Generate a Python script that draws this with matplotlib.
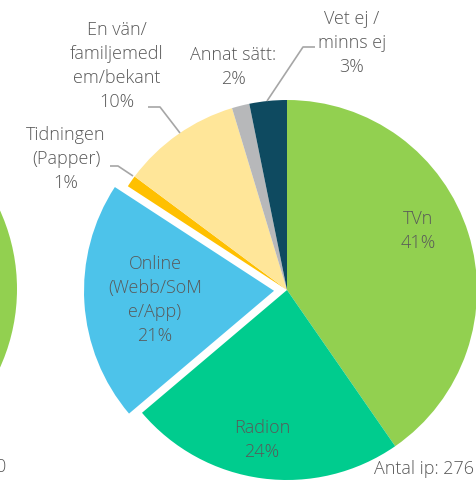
import matplotlib.pyplot as plt
from matplotlib.patches import Circle

# shares (displayed labels are rounded)
categories = ["TVn", "Radion", "Online\n(Webb/SoM\ne/App)", "Tidningen\n(Papper)",
              "En vän/\nfamiljemedl\nem/bekant", "Annat sätt:", "Vet ej /\nminns ej"]
shares = [40.6, 23.6, 20.5, 1.0, 10.2, 1.5, 3.2]
shown_pct = [41, 24, 21, 1, 10, 2, 3]
colors = ["#92D050", "#00CC8E", "#4DC3EA", "#FFC000", "#FFE699", "#B7B8BA", "#0E4A60"]
explode = [0, 0, 13, 0, 0, 0, 0]   # in pixels (data units)
n_resp = 276

W, H = 477, 481
TXT = "#595959"
LINE = "#A6A6A6"
FS = 13
plt.rcParams['font.family'] = ['Open Sans', 'DejaVu Sans']
plt.rcParams['font.weight'] = 'light'

fig = plt.figure(figsize=(W / 100, H / 100), dpi=100)
ax = fig.add_axes([0, 0, 1, 1])

# neighbouring chart cut off at the left edge
ax.add_patch(Circle((-173, H - 290), 190, color=colors[0], lw=0))
ax.text(6, H - 467, "0", ha='right', va='center', fontsize=FS, color=TXT)

cx, cy, r = 287, H - 291, 190
ax.pie(shares, colors=colors, explode=explode, startangle=90, counterclock=False,
       center=(cx, cy), radius=r, wedgeprops=dict(linewidth=0), frame=True)
ax.set_xlim(0, W)
ax.set_ylim(0, H)
ax.set_aspect('equal')
ax.axis('off')

# label positions (pixel coords from the top)
label_pos = [(418, 231), (262, 440), (155, 300), (66, 159), (117, 66), (233, 67), (352, 43)]
for name, pct, (x, y) in zip(categories, shown_pct, label_pos):
    ax.text(x, H - y, f"{name}\n{pct}%", ha='center', va='center', fontsize=FS,
            color=TXT, linespacing=1.42)

# leader lines
leaders = [
    [(267, 102), (303, 48), (315, 48)],
    [(180, 134), (160, 108), (148, 108)],
    [(133, 177), (118, 167), (110, 167)],
]
for pts in leaders:
    ax.plot([p[0] for p in pts], [H - p[1] for p in pts], color=LINE, lw=1.2,
            solid_capstyle='butt')

ax.text(474, H - 469, f"Antal ip: {n_resp}", ha='right', va='center', fontsize=FS, color=TXT)

fig.savefig("out.png", dpi=100)
